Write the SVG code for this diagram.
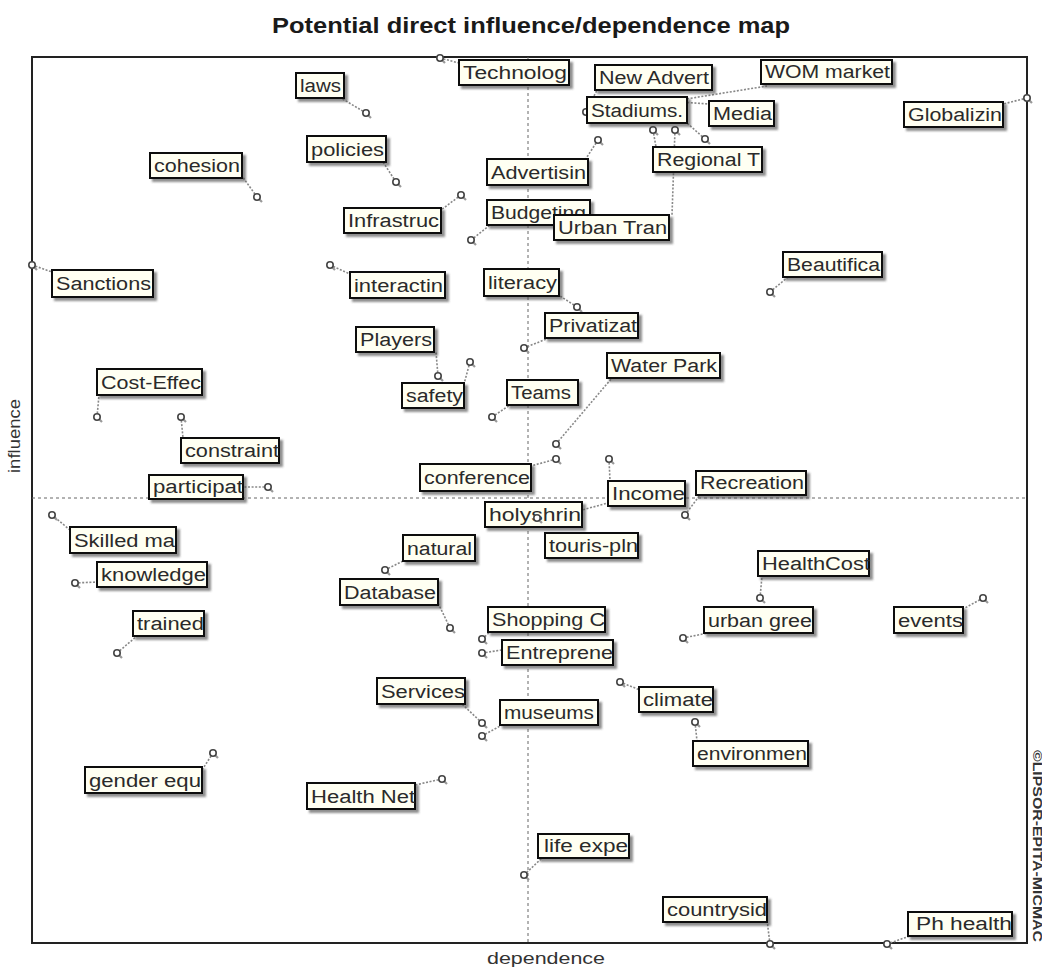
<svg xmlns="http://www.w3.org/2000/svg" xmlns:xlink="http://www.w3.org/1999/xlink" width="1042" height="970" viewBox="0 0 1042 970">
<style>
.title{font-family:"Liberation Sans",Arial,sans-serif;font-weight:bold;font-size:22px;fill:#1a1a1a}
.axl{font-family:"Liberation Sans",Arial,sans-serif;font-size:17px;fill:#333}
.copy{font-family:"Liberation Sans",Arial,sans-serif;font-weight:bold;font-size:12px;fill:#333}
.frame{fill:none;stroke:#222;stroke-width:2}
.axis{stroke:#666;stroke-width:1;stroke-dasharray:3 3;fill:none}
.ld{stroke:#888;stroke-width:1.6;stroke-dasharray:2 1.6;fill:none}
.node rect{fill:#fffff2;stroke:#111;stroke-width:2;filter:url(#sh)}
.node text{font-family:"Liberation Sans",Arial,sans-serif;font-size:18px;fill:#2a2a2a}
</style>
<defs>
<filter id="sh" x="-20%" y="-30%" width="140%" height="170%">
<feDropShadow dx="3" dy="3" stdDeviation="1.3" flood-color="#444" flood-opacity="0.6"/>
</filter>
<g id="pt">
<line x1="1.5" y1="1.5" x2="5" y2="5" stroke="#999" stroke-width="2.2"/>
<circle cx="0" cy="0" r="3.2" fill="#fff" stroke="#444" stroke-width="1.6"/>
</g>
</defs>
<rect width="1042" height="970" fill="#fff"/>
<text class="title" x="531" y="33" text-anchor="middle" textLength="518" lengthAdjust="spacingAndGlyphs">Potential direct influence/dependence map</text>
<rect class="frame" x="32" y="57" width="995" height="886"/>
<line class="axis" x1="528" y1="57" x2="528" y2="943"/>
<line class="axis" x1="32" y1="498" x2="1027" y2="498"/>
<text class="axl" x="546" y="964" text-anchor="middle" textLength="118" lengthAdjust="spacingAndGlyphs">dependence</text>
<text class="axl" transform="translate(20,436) rotate(-90)" text-anchor="middle" textLength="74" lengthAdjust="spacingAndGlyphs">influence</text>
<text class="copy" transform="translate(1033,750) rotate(90)" textLength="192" lengthAdjust="spacingAndGlyphs">©LIPSOR-EPITA-MICMAC</text>

<g id="connectors">
<path class="ld" d="M440,58L459,63"/>
<path class="ld" d="M366,113L341,98"/>
<path class="ld" d="M396,182L383,162"/>
<path class="ld" d="M257,197L242,176"/>
<path class="ld" d="M461,195L441,210"/>
<path class="ld" d="M598,140L585,160"/>
<path class="ld" d="M471,240L490,225"/>
<path class="ld" d="M675,130L672,215"/>
<path class="ld" d="M653,130L656,147"/>
<path class="ld" d="M705,139L687,123"/>
<path class="ld" d="M586,112L597,90"/>
<path class="ld" d="M680,100L767,86"/>
<path class="ld" d="M680,102L709,104"/>
<path class="ld" d="M1027,98L1003,104"/>
<path class="ld" d="M770,292L788,277"/>
<path class="ld" d="M32,265L52,272"/>
<path class="ld" d="M330,265L350,274"/>
<path class="ld" d="M577,307L557,294"/>
<path class="ld" d="M524,348L549,338"/>
<path class="ld" d="M438,376L436,352"/>
<path class="ld" d="M470,362L464,384"/>
<path class="ld" d="M492,417L510,405"/>
<path class="ld" d="M556,444L612,378"/>
<path class="ld" d="M556,459L531,466"/>
<path class="ld" d="M609,459L610,481"/>
<path class="ld" d="M685,515L700,495"/>
<path class="ld" d="M537,518L582,510L608,503"/>
<path class="ld" d="M385,570L403,561"/>
<path class="ld" d="M450,628L438,603"/>
<path class="ld" d="M52,515L70,530"/>
<path class="ld" d="M75,583L97,582"/>
<path class="ld" d="M117,653L137,636"/>
<path class="ld" d="M482,639L490,632"/>
<path class="ld" d="M482,653L502,650"/>
<path class="ld" d="M482,723L462,704"/>
<path class="ld" d="M482,736L502,725"/>
<path class="ld" d="M620,682L640,690"/>
<path class="ld" d="M760,598L762,576"/>
<path class="ld" d="M683,638L708,633"/>
<path class="ld" d="M983,598L963,609"/>
<path class="ld" d="M695,722L697,741"/>
<path class="ld" d="M213,753L202,770"/>
<path class="ld" d="M442,779L415,785"/>
<path class="ld" d="M524,875L542,858"/>
<path class="ld" d="M770,944L767,920"/>
<path class="ld" d="M887,944L910,936"/>
<path class="ld" d="M97,417L99,395"/>
<path class="ld" d="M181,417L183,438"/>
<path class="ld" d="M268,487L243,487"/>
<use href="#pt" x="440" y="58"/>
<use href="#pt" x="366" y="113"/>
<use href="#pt" x="396" y="182"/>
<use href="#pt" x="257" y="197"/>
<use href="#pt" x="461" y="195"/>
<use href="#pt" x="598" y="140"/>
<use href="#pt" x="471" y="240"/>
<use href="#pt" x="675" y="130"/>
<use href="#pt" x="653" y="130"/>
<use href="#pt" x="705" y="139"/>
<use href="#pt" x="586" y="112"/>
<use href="#pt" x="680" y="100"/>
<use href="#pt" x="1027" y="98"/>
<use href="#pt" x="770" y="292"/>
<use href="#pt" x="32" y="265"/>
<use href="#pt" x="330" y="265"/>
<use href="#pt" x="577" y="307"/>
<use href="#pt" x="524" y="348"/>
<use href="#pt" x="438" y="376"/>
<use href="#pt" x="470" y="362"/>
<use href="#pt" x="492" y="417"/>
<use href="#pt" x="556" y="444"/>
<use href="#pt" x="556" y="459"/>
<use href="#pt" x="609" y="459"/>
<use href="#pt" x="685" y="515"/>
<use href="#pt" x="385" y="570"/>
<use href="#pt" x="450" y="628"/>
<use href="#pt" x="52" y="515"/>
<use href="#pt" x="75" y="583"/>
<use href="#pt" x="117" y="653"/>
<use href="#pt" x="482" y="639"/>
<use href="#pt" x="482" y="653"/>
<use href="#pt" x="482" y="723"/>
<use href="#pt" x="482" y="736"/>
<use href="#pt" x="620" y="682"/>
<use href="#pt" x="760" y="598"/>
<use href="#pt" x="683" y="638"/>
<use href="#pt" x="983" y="598"/>
<use href="#pt" x="695" y="722"/>
<use href="#pt" x="213" y="753"/>
<use href="#pt" x="442" y="779"/>
<use href="#pt" x="524" y="875"/>
<use href="#pt" x="770" y="944"/>
<use href="#pt" x="887" y="944"/>
<use href="#pt" x="97" y="417"/>
<use href="#pt" x="181" y="417"/>
<use href="#pt" x="268" y="487"/>
</g>

<g id="n-technolog" class="node"><rect x="459" y="60" width="110" height="25"/><text x="463" y="79" textLength="104" lengthAdjust="spacingAndGlyphs">Technolog</text></g>
<g id="n-laws" class="node"><rect x="296" y="73" width="48" height="25"/><text x="300" y="92" textLength="41" lengthAdjust="spacingAndGlyphs">laws</text></g>
<g id="n-policies" class="node"><rect x="307" y="136" width="79" height="26"/><text x="311" y="156" textLength="73" lengthAdjust="spacingAndGlyphs">policies</text></g>
<g id="n-cohesion" class="node"><rect x="150" y="153" width="92" height="25"/><text x="154" y="172" textLength="86" lengthAdjust="spacingAndGlyphs">cohesion</text></g>
<g id="n-infrastruc" class="node"><rect x="344" y="208" width="97" height="25"/><text x="348" y="227" textLength="91" lengthAdjust="spacingAndGlyphs">Infrastruc</text></g>
<g id="n-advertisin" class="node"><rect x="487" y="159" width="101" height="26"/><text x="491" y="179" textLength="95" lengthAdjust="spacingAndGlyphs">Advertisin</text></g>
<g id="n-budgeting" class="node"><rect x="487" y="200" width="103" height="25"/><text x="491" y="219" textLength="95" lengthAdjust="spacingAndGlyphs">Budgeting</text></g>
<g id="n-urbantran" class="node"><rect x="554" y="215" width="115" height="25"/><text x="558" y="234" textLength="109" lengthAdjust="spacingAndGlyphs">Urban Tran</text></g>
<g id="n-newadvert" class="node"><rect x="595" y="65" width="117" height="25"/><text x="599" y="84" textLength="110" lengthAdjust="spacingAndGlyphs">New Advert</text></g>
<g id="n-wom" class="node"><rect x="761" y="60" width="131" height="24"/><text x="765" y="78" textLength="125" lengthAdjust="spacingAndGlyphs">WOM market</text></g>
<g id="n-media" class="node"><rect x="709" y="101" width="65" height="25"/><text x="713" y="120" textLength="59" lengthAdjust="spacingAndGlyphs">Media</text></g>
<g id="n-stadiums" class="node"><rect x="587" y="97" width="100" height="26"/><text x="591" y="117" textLength="92" lengthAdjust="spacingAndGlyphs">Stadiums.</text></g>
<g id="n-regional" class="node"><rect x="653" y="147" width="109" height="25"/><text x="657" y="166" textLength="103" lengthAdjust="spacingAndGlyphs">Regional T</text></g>
<g id="n-globalizin" class="node"><rect x="904" y="102" width="99" height="25"/><text x="908" y="121" textLength="94" lengthAdjust="spacingAndGlyphs">Globalizin</text></g>
<g id="n-beautifica" class="node"><rect x="783" y="252" width="99" height="25"/><text x="787" y="271" textLength="93" lengthAdjust="spacingAndGlyphs">Beautifica</text></g>
<g id="n-sanctions" class="node"><rect x="52" y="270" width="101" height="27"/><text x="56" y="290" textLength="95" lengthAdjust="spacingAndGlyphs">Sanctions</text></g>
<g id="n-interactin" class="node"><rect x="350" y="272" width="95" height="26"/><text x="354" y="292" textLength="89" lengthAdjust="spacingAndGlyphs">interactin</text></g>
<g id="n-literacy" class="node"><rect x="484" y="269" width="75" height="27"/><text x="488" y="289" textLength="69" lengthAdjust="spacingAndGlyphs">literacy</text></g>
<g id="n-privatizat" class="node"><rect x="545" y="313" width="93" height="25"/><text x="549" y="332" textLength="88" lengthAdjust="spacingAndGlyphs">Privatizat</text></g>
<g id="n-players" class="node"><rect x="356" y="327" width="78" height="25"/><text x="360" y="346" textLength="72" lengthAdjust="spacingAndGlyphs">Players</text></g>
<g id="n-safety" class="node"><rect x="402" y="383" width="62" height="25"/><text x="406" y="402" textLength="57" lengthAdjust="spacingAndGlyphs">safety</text></g>
<g id="n-teams" class="node"><rect x="507" y="380" width="71" height="25"/><text x="511" y="399" textLength="60" lengthAdjust="spacingAndGlyphs">Teams</text></g>
<g id="n-waterpark" class="node"><rect x="607" y="353" width="113" height="25"/><text x="611" y="372" textLength="106" lengthAdjust="spacingAndGlyphs">Water Park</text></g>
<g id="n-costeffec" class="node"><rect x="97" y="369" width="105" height="26"/><text x="101" y="389" textLength="100" lengthAdjust="spacingAndGlyphs">Cost-Effec</text></g>
<g id="n-constraint" class="node"><rect x="181" y="438" width="98" height="25"/><text x="185" y="457" textLength="94" lengthAdjust="spacingAndGlyphs">constraint</text></g>
<g id="n-participat" class="node"><rect x="149" y="475" width="94" height="24"/><text x="153" y="493" textLength="90" lengthAdjust="spacingAndGlyphs">participat</text></g>
<g id="n-conference" class="node"><rect x="420" y="464" width="111" height="27"/><text x="424" y="484" textLength="106" lengthAdjust="spacingAndGlyphs">conference</text></g>
<g id="n-income" class="node"><rect x="608" y="481" width="77" height="25"/><text x="612" y="500" textLength="73" lengthAdjust="spacingAndGlyphs">Income</text></g>
<g id="n-recreation" class="node"><rect x="696" y="471" width="110" height="24"/><text x="700" y="489" textLength="104" lengthAdjust="spacingAndGlyphs">Recreation</text></g>
<g id="n-holyshrin" class="node"><rect x="485" y="502" width="97" height="25"/><text x="489" y="521" textLength="92" lengthAdjust="spacingAndGlyphs">holyshrin</text><use href="#pt" x="537" y="518"/></g>
<g id="n-tourispln" class="node"><rect x="545" y="533" width="93" height="25"/><text x="549" y="552" textLength="89" lengthAdjust="spacingAndGlyphs">touris-pln</text></g>
<g id="n-natural" class="node"><rect x="403" y="535" width="72" height="26"/><text x="407" y="555" textLength="65" lengthAdjust="spacingAndGlyphs">natural</text></g>
<g id="n-database" class="node"><rect x="340" y="579" width="98" height="26"/><text x="344" y="599" textLength="92" lengthAdjust="spacingAndGlyphs">Database</text></g>
<g id="n-skilled" class="node"><rect x="70" y="527" width="106" height="26"/><text x="74" y="547" textLength="101" lengthAdjust="spacingAndGlyphs">Skilled ma</text></g>
<g id="n-knowledge" class="node"><rect x="97" y="562" width="110" height="25"/><text x="101" y="581" textLength="105" lengthAdjust="spacingAndGlyphs">knowledge</text></g>
<g id="n-trained" class="node"><rect x="133" y="611" width="71" height="25"/><text x="137" y="630" textLength="67" lengthAdjust="spacingAndGlyphs">trained</text></g>
<g id="n-shopping" class="node"><rect x="488" y="607" width="117" height="25"/><text x="492" y="626" textLength="113" lengthAdjust="spacingAndGlyphs">Shopping C</text></g>
<g id="n-entreprene" class="node"><rect x="502" y="640" width="111" height="25"/><text x="506" y="659" textLength="107" lengthAdjust="spacingAndGlyphs">Entreprene</text></g>
<g id="n-services" class="node"><rect x="377" y="678" width="88" height="26"/><text x="381" y="698" textLength="84" lengthAdjust="spacingAndGlyphs">Services</text></g>
<g id="n-museums" class="node"><rect x="500" y="700" width="98" height="25"/><text x="504" y="719" textLength="90" lengthAdjust="spacingAndGlyphs">museums</text></g>
<g id="n-climate" class="node"><rect x="639" y="687" width="74" height="25"/><text x="643" y="706" textLength="70" lengthAdjust="spacingAndGlyphs">climate</text></g>
<g id="n-healthcost" class="node"><rect x="758" y="551" width="111" height="25"/><text x="762" y="570" textLength="108" lengthAdjust="spacingAndGlyphs">HealthCost</text></g>
<g id="n-urbangree" class="node"><rect x="704" y="607" width="109" height="26"/><text x="708" y="627" textLength="104" lengthAdjust="spacingAndGlyphs">urban gree</text></g>
<g id="n-events" class="node"><rect x="894" y="607" width="69" height="26"/><text x="898" y="627" textLength="65" lengthAdjust="spacingAndGlyphs">events</text></g>
<g id="n-environmen" class="node"><rect x="693" y="741" width="115" height="25"/><text x="697" y="760" textLength="110" lengthAdjust="spacingAndGlyphs">environmen</text></g>
<g id="n-gender" class="node"><rect x="85" y="767" width="117" height="26"/><text x="89" y="787" textLength="112" lengthAdjust="spacingAndGlyphs">gender equ</text></g>
<g id="n-healthnet" class="node"><rect x="307" y="783" width="108" height="26"/><text x="311" y="803" textLength="104" lengthAdjust="spacingAndGlyphs">Health Net</text></g>
<g id="n-lifeexpe" class="node"><rect x="538" y="834" width="91" height="24"/><text x="544" y="852" textLength="84" lengthAdjust="spacingAndGlyphs">life expe</text></g>
<g id="n-countrysid" class="node"><rect x="663" y="897" width="104" height="25"/><text x="667" y="916" textLength="100" lengthAdjust="spacingAndGlyphs">countrysid</text></g>
<g id="n-phhealth" class="node"><rect x="908" y="912" width="104" height="24"/><text x="916" y="930" textLength="96" lengthAdjust="spacingAndGlyphs">Ph health</text></g>
</svg>
